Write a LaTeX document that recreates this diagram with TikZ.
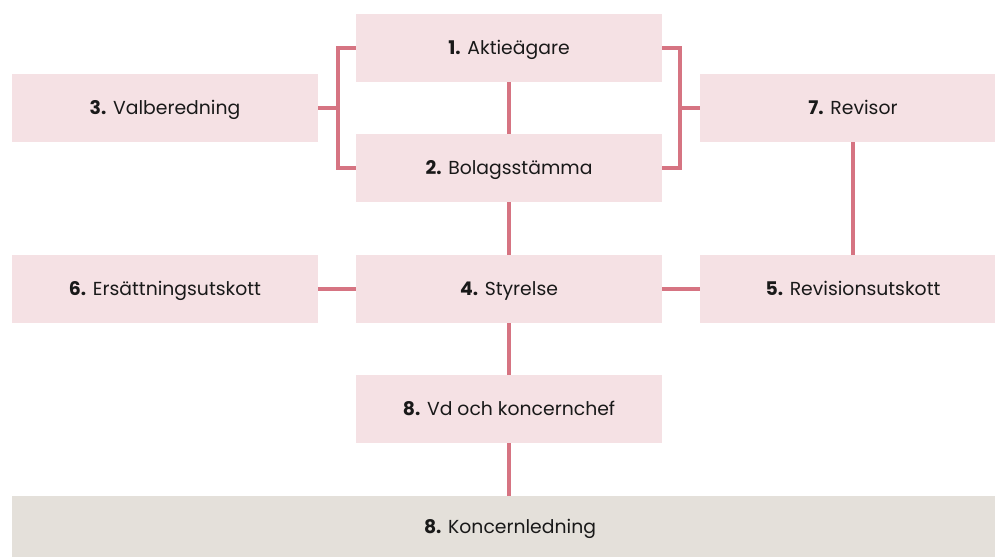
\documentclass[tikz,border=0pt]{standalone}
\usepackage{fontspec}
\setmainfont{Poppins}
\definecolor{boxpink}{HTML}{F5E1E4}
\definecolor{boxgrey}{HTML}{E4E0DA}
\definecolor{linerose}{HTML}{D67482}
\begin{document}
\begin{tikzpicture}[x=1pt,y=-1pt,
  orgbox/.style={fill=boxpink, draw=none, minimum width=306pt, minimum height=68pt, inner sep=0pt},
  greybox/.style={orgbox, fill=boxgrey, minimum width=996pt, minimum height=61pt},
  lbl/.style={inner sep=0pt, text height=0.7em, text depth=0pt,
    font=\fontsize{18.8pt}{22pt}\selectfont, text=black!90},
  conn/.style={draw=linerose, line width=4pt, line cap=butt, line join=miter}]
\useasboundingbox (0,0) rectangle (995,557);
\node[orgbox] (a1) at (509,48) {};
\node[orgbox] (a2) at (509,168) {};
\node[orgbox] (a3) at (165,108) {};
\node[orgbox] (a7) at (853,108) {};
\node[orgbox] (a6) at (165,289) {};
\node[orgbox] (a4) at (509,289) {};
\node[orgbox] (a5) at (853,289) {};
\node[orgbox] (a8) at (509,409) {};
\node[greybox] (k) at (510,526.5) {};
\node[lbl] (t1) at ([yshift=-3pt]a1.center) {\textbf{1.} Aktieägare};
\node[lbl] (t2) at ([yshift=-3pt]a2.center) {\textbf{2.} Bolagsstämma};
\node[lbl] (t3) at ([yshift=-3pt]a3.center) {\textbf{3.} Valberedning};
\node[lbl] (t7) at ([yshift=-3pt]a7.center) {\textbf{7.} Revisor};
\node[lbl] (t6) at ([yshift=-3pt]a6.center) {\textbf{6.} Ersättningsutskott};
\node[lbl] (t4) at ([yshift=-3pt]a4.center) {\textbf{4.} Styrelse};
\node[lbl] (t5) at ([yshift=-3pt]a5.center) {\textbf{5.} Revisionsutskott};
\node[lbl] (t8) at ([yshift=-3pt]a8.center) {\textbf{8.} Vd och koncernchef};
\node[lbl] (tk) at ([yshift=-3pt]k.center) {\textbf{8.} Koncernledning};
\coordinate (lb) at (338,108);
\coordinate (rb) at (680,108);
\draw[conn] (a1.west) -| (lb) |- (a2.west);
\draw[conn] (a3.east) -- (lb);
\draw[conn] (a1.east) -| (rb) |- (a2.east);
\draw[conn] (rb) -- (a7.west);
\draw[conn] (a1.south) -- (a2.north);
\draw[conn] (a2.south) -- (a4.north);
\draw[conn] (a4.south) -- (a8.north);
\draw[conn] (a8.south) -- (a8.south |- k.north);
\draw[conn] (a6.east) -- (a4.west);
\draw[conn] (a4.east) -- (a5.west);
\draw[conn] (a7.south) -- (a5.north);
\end{tikzpicture}
\end{document}
